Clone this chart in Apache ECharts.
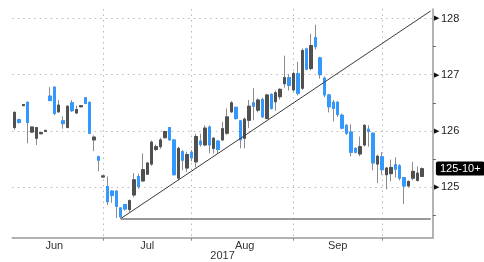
<!DOCTYPE html>
<html>
<head>
<meta charset="utf-8">
<script src="https://cdn.jsdelivr.net/npm/echarts@6/dist/echarts.min.js"></script>
<style>
  html, body { margin: 0; padding: 0; background: #fff; }
  #chart { width: 484px; height: 262px; }
</style>
</head>
<body>
<div id="chart"></div>
<script>
// trading days (last two are empty padding on the right of the plot)
const days = [
  '6/5', '6/6', '6/7', '6/8', '6/9', '6/12', '6/13', '6/14', '6/15', '6/16',
  '6/19', '6/20', '6/21', '6/22', '6/23', '6/26', '6/27', '6/28', '6/29', '6/30',
  '7/3', '7/5', '7/6', '7/7', '7/10', '7/11', '7/12', '7/13', '7/14',
  '7/17', '7/18', '7/19', '7/20', '7/21', '7/24', '7/25', '7/26', '7/27', '7/28', '7/31',
  '8/1', '8/2', '8/3', '8/4', '8/7', '8/8', '8/9', '8/10', '8/11',
  '8/14', '8/15', '8/16', '8/17', '8/18', '8/21', '8/22', '8/23', '8/24', '8/25',
  '8/28', '8/29', '8/30', '8/31',
  '9/1', '9/5', '9/6', '9/7', '9/8', '9/11', '9/12', '9/13', '9/14', '9/15',
  '9/18', '9/19', '9/20', '9/21', '9/22', '9/25', '9/26', '9/27', '9/28', '9/29',
  '10/2', '10/3', '10/4', '10/5', '10/6', '10/9', '10/10', '10/11', '10/12', '10/13',
  '10/16', '10/17'
]

const opens = [
  126.06, 126.20, 126.45, 126.51, 125.98, 125.87, 125.95, 125.99, 126.62, 126.78,
  126.34, 126.18, 126.06, 126.50, 126.32, 126.43, 126.59, 126.51, 125.84, 125.54,
  125.18, 125.01, 124.93, 124.93, 124.63, 124.69, 124.60, 124.86, 125.19, 125.11,
  125.23, 125.41, 125.67, 125.72, 125.88, 126.06, 125.84, 125.16, 125.63, 125.34,
  125.62, 125.45, 125.82, 125.75, 126.07, 125.69, 125.82, 125.84, 125.96, 126.34,
  126.42, 126.18, 125.87, 126.19, 126.50, 126.37, 126.56, 126.22, 126.65, 126.52,
  126.61, 126.84, 126.95, 126.73, 127.02, 126.76, 127.46, 127.11, 127.66, 127.30,
  126.94, 126.64, 126.51, 126.51, 126.28, 126.10, 125.98, 125.69, 125.59, 125.75,
  126.03, 125.96, 125.41, 125.54, 125.22, 125.24, 125.40, 125.38, 125.17, 125.02,
  125.16, 125.12, 125.19
]
const closes = [
  126.33, 126.15, 126.47, 126.15, 126.07, 126.06, 125.97, 126.01, 126.54, 126.31,
  126.46, 126.13, 126.44, 126.36, 126.38, 126.45, 126.49, 125.96, 125.89, 125.48,
  125.20, 124.74, 124.85, 124.66, 124.47, 124.61, 124.76, 125.13, 125.01, 125.31,
  125.43, 125.80, 125.72, 125.84, 125.99, 125.84, 125.22, 125.69, 125.48, 125.58,
  125.52, 125.90, 125.76, 126.05, 125.75, 125.87, 125.67, 126.04, 126.25, 126.50,
  126.22, 125.84, 126.21, 126.44, 126.44, 126.55, 126.25, 126.64, 126.40, 126.68,
  126.74, 126.95, 126.81, 127.02, 126.67, 127.43, 127.10, 127.52, 127.50, 127.00,
  126.64, 126.43, 126.40, 126.29, 126.05, 125.96, 125.62, 125.62, 125.72, 126.10,
  125.99, 125.43, 125.55, 125.31, 125.34, 125.35, 125.32, 125.16, 125.02, 125.10,
  125.28, 125.25, 125.328
]
const lows = [
  126.02, 126.13, 126.44, 125.78, 125.96, 125.75, 125.94, 125.98, 126.53, 126.28,
  126.32, 126.04, 126.05, 126.34, 126.30, 126.42, 126.48, 125.94, 125.64, 125.28,
  125.17, 124.68, 124.72, 124.45, 124.44, 124.58, 124.56, 124.82, 124.97, 125.10,
  125.22, 125.38, 125.64, 125.68, 125.87, 125.83, 125.21, 125.12, 125.30, 125.27,
  125.46, 125.35, 125.72, 125.73, 125.60, 125.60, 125.60, 125.82, 125.93, 126.32,
  126.20, 125.69, 125.69, 126.05, 126.19, 126.33, 126.23, 126.21, 126.38, 126.36,
  126.56, 126.77, 126.72, 126.70, 126.63, 126.73, 127.08, 127.08, 127.45, 126.93,
  126.60, 126.33, 126.17, 126.25, 126.03, 125.93, 125.55, 125.60, 125.55, 125.72,
  125.72, 125.30, 125.07, 125.22, 124.96, 125.10, 125.17, 125.12, 124.70, 125.00,
  125.12, 125.10, 125.18
]
const highs = [
  126.35, 126.22, 126.48, 126.52, 126.08, 126.07, 125.98, 126.02, 126.78, 126.79,
  126.55, 126.26, 126.45, 126.55, 126.45, 126.46, 126.60, 126.52, 125.92, 125.56,
  125.21, 125.19, 124.94, 124.94, 124.64, 124.70, 124.78, 125.25, 125.24, 125.60,
  125.44, 125.83, 125.76, 125.88, 126.00, 126.07, 125.85, 125.72, 125.66, 125.63,
  125.66, 125.95, 125.95, 126.10, 126.10, 125.89, 125.83, 126.16, 126.40, 126.53,
  126.43, 126.19, 126.24, 126.55, 126.76, 126.58, 126.59, 126.66, 126.67, 126.72,
  126.76, 127.34, 127.01, 127.05, 127.23, 127.47, 127.48, 127.73, 127.89, 127.32,
  126.97, 126.66, 126.55, 126.53, 126.31, 126.12, 126.12, 125.71, 125.90, 126.12,
  126.10, 125.97, 125.58, 125.62, 125.36, 125.49, 125.53, 125.41, 125.18, 125.12,
  125.45, 125.37, 125.35
]

// x labels (category index -> text) and month-start gridlines
const monthLabels = { 9: 'Jun', 30: 'Jul', 52: 'Aug', 73: 'Sep' }
const monthStarts = days.map((d, i) => i).filter(i => i > 0 && days[i].split('/')[0] !== days[i - 1].split('/')[0])
const yearLabel = '2017'

// last price flag
const lastPrice = 125.328
const lastPriceLabel = '125-10+'

// drawn lines: support level and rising trend line
const supportLevel = 124.44
const trendStart = [24, 124.44]
const trendEnd = [94, 128.135]

const blue = '#3399ff'
const dark = '#505050'
const wick = '#8c8c8c'
const font = "'Liberation Sans Narrow', 'Liberation Sans', Arial, sans-serif"

const candles = opens.map((o, i) => [o, closes[i], lows[i], highs[i]])
const bodies = opens.map((o, i) => [o, closes[i], Math.min(o, closes[i]), Math.max(o, closes[i])])

const chart = echarts.init(document.getElementById('chart'), null, { renderer: 'canvas' })
chart.setOption({
  animation: false,
  backgroundColor: '#fff',
  textStyle: { fontFamily: font },
  grid: { left: 12.2, right: 51.1, top: 9, bottom: 24.3, outerBoundsMode: 'none', containLabel: false },
  xAxis: {
    type: 'category',
    data: days,
    boundaryGap: true,
    name: yearLabel,
    nameLocation: 'middle',
    nameGap: 13,
    nameMoveOverlap: false,
    nameTextStyle: { color: '#333', fontSize: 11, fontFamily: font, verticalAlign: 'top' },
    axisLine: { lineStyle: { color: '#9a9a9a', width: 1.5 } },
    axisTick: {
      show: true,
      alignWithLabel: true,
      length: 3,
      interval: (i) => monthStarts.includes(i),
      lineStyle: { color: '#8a8a8a' }
    },
    axisLabel: {
      interval: (i) => monthLabels[i] !== undefined,
      formatter: (v, i) => monthLabels[i] || '',
      color: '#333',
      fontSize: 11,
      fontFamily: font,
      margin: 3,
      hideOverlap: false
    },
    splitLine: {
      show: true,
      alignWithLabel: true,
      interval: (i) => monthStarts.includes(i),
      lineStyle: { color: '#b8b8b8', type: [1.5, 4], width: 1 }
    }
  },
  yAxis: {
    type: 'value',
    position: 'right',
    min: 124.1,
    max: 128.17,
    minInterval: 1,
    maxInterval: 1,
    axisLine: { show: true, lineStyle: { color: '#9a9a9a', width: 1.5 } },
    axisTick: { show: false },
    minorTick: { show: true, splitNumber: 2, length: 3, lineStyle: { color: '#666' } },
    axisLabel: {
      showMinLabel: false,
      showMaxLabel: false,
      margin: 1,
      color: '#222',
      fontSize: 11,
      fontFamily: font,
      formatter: (v) => '{t|▶}' + v,
      rich: { t: { fontSize: 7, color: '#111', padding: [0, 2, 0, 0] } }
    },
    splitLine: {
      show: true,
      showMinLine: false,
      showMaxLine: false,
      lineStyle: { color: '#b8b8b8', type: [1.5, 4], width: 1 }
    }
  },
  series: [
    {
      name: 'range',
      type: 'candlestick',
      data: candles,
      barWidth: 3,
      z: 2,
      itemStyle: { color: dark, color0: blue, borderColor: wick, borderColor0: wick, borderWidth: 1 }
    },
    {
      name: 'body',
      type: 'candlestick',
      data: bodies,
      barWidth: 3,
      z: 3,
      itemStyle: { color: dark, color0: blue, borderColor: dark, borderColor0: blue, borderWidth: 1 }
    },
    {
      name: 'lines',
      type: 'line',
      data: closes,
      symbol: 'none',
      silent: true,
      clip: false,
      z: 4,
      lineStyle: { opacity: 0 },
      markLine: {
        silent: true,
        symbol: 'none',
        animation: false,
        label: { show: false },
        data: [
          [
            { coord: trendStart, lineStyle: { color: '#3a3a3a', width: 1, type: 'solid' } },
            { coord: trendEnd }
          ],
          [
            { coord: [trendStart[0], supportLevel], lineStyle: { color: '#777', width: 1.5, type: 'solid' } },
            { coord: [trendEnd[0], supportLevel] }
          ],
          {
            yAxis: lastPrice,
            lineStyle: { color: 'rgba(0,0,0,0)', width: 0, opacity: 1 },
            label: {
              show: true,
              position: 'end',
              distance: 3,
              formatter: lastPriceLabel,
              color: '#fff',
              backgroundColor: '#000',
              borderRadius: 2,
              padding: [2, 4, 1, 4],
              fontSize: 11,
              fontFamily: font
            }
          }
        ]
      }
    }
  ]
})
</script>
</body>
</html>
